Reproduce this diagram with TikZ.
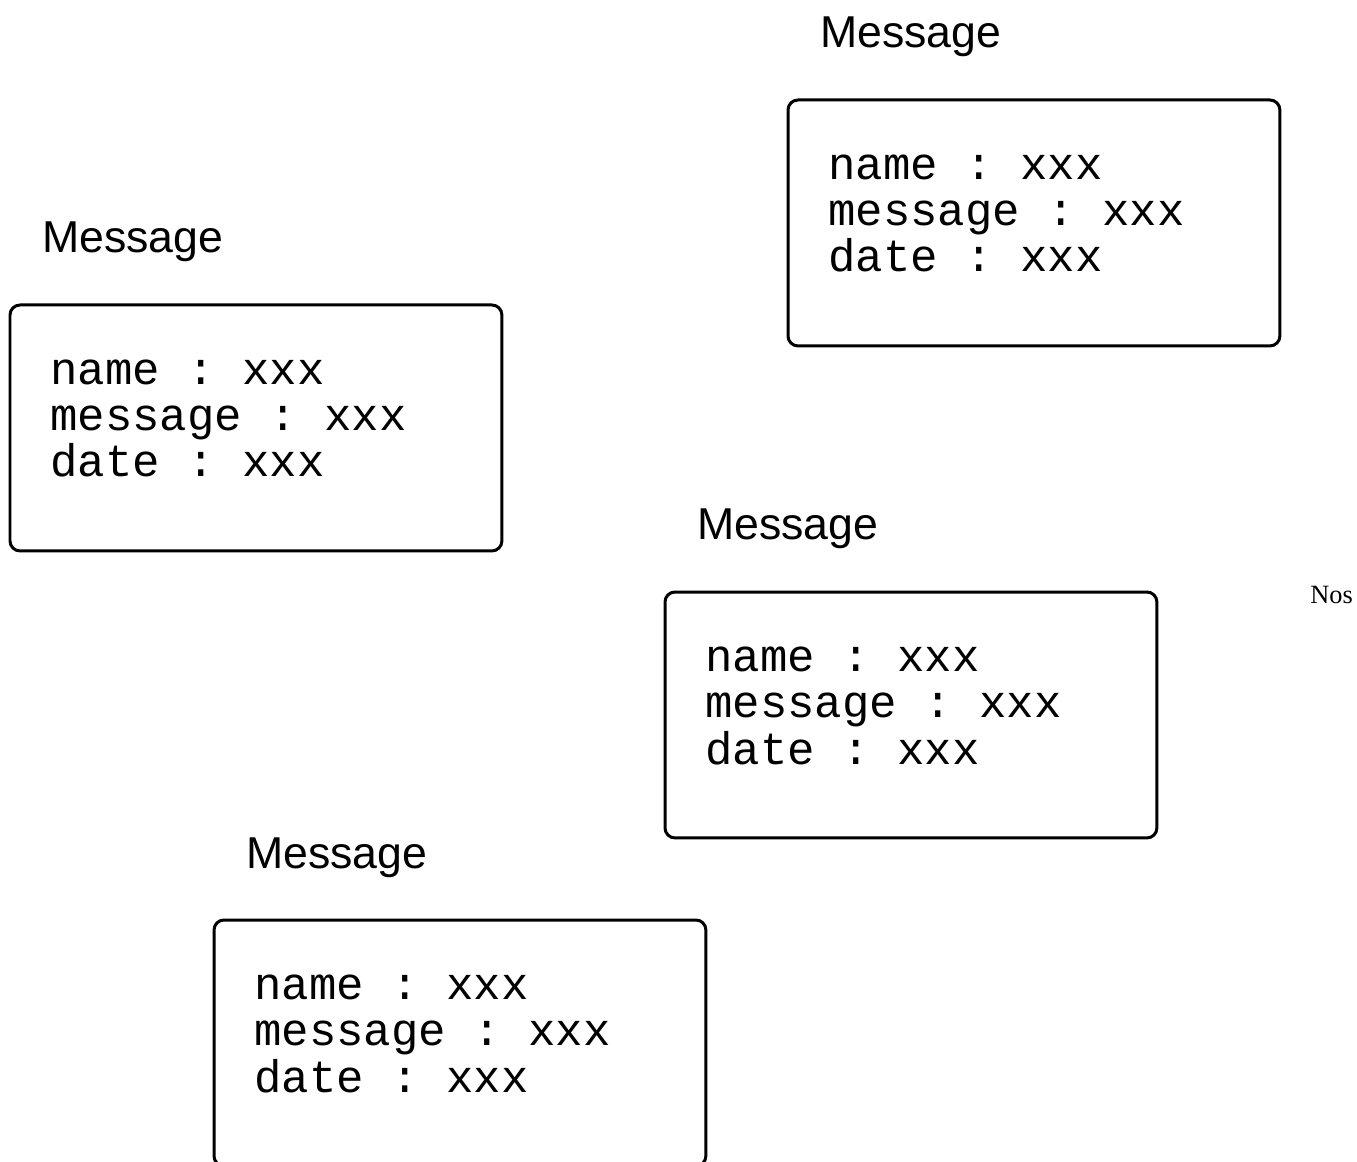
\documentclass[tikz,border=0pt]{standalone}
\usepackage{fontspec}
\setmainfont{Liberation Serif}
\setsansfont{Liberation Sans}
\setmonofont{Liberation Mono}

\begin{document}
\begin{tikzpicture}[
	x=0.02cm, y=-0.02cm,
	titre/.style={anchor=base west, inner sep=0,
		font=\sffamily\fontsize{25.4pt}{30pt}\selectfont},
	msgbox/.style={rectangle, draw=black, line width=0.06cm,
		rounded corners=0.2cm, minimum width=9.84cm, minimum height=4.92cm,
		anchor=north west, inner sep=0, outer sep=0},
	champs/.style={anchor=base west, align=left, inner sep=0,
		font=\ttfamily\fontsize{26pt}{26.2pt}\selectfont}
	]
	\useasboundingbox (0,0) rectangle (1357,1162);
	\clip (0,0) rectangle (1357,1162);

	\node[msgbox] (boxA) at (788,100) {};
	\node[msgbox] (boxB) at (10,305)  {};
	\node[msgbox] (boxC) at (665,592) {};
	\node[msgbox] (boxD) at (214,920) {};

	\node[titre] (titreA) at ([shift={(32,-52)}]boxA.north west) {Message};
	\node[titre] (titreB) at ([shift={(32,-52)}]boxB.north west) {Message};
	\node[titre] (titreC) at ([shift={(32,-52)}]boxC.north west) {Message};
	\node[titre] (titreD) at ([shift={(32,-52)}]boxD.north west) {Message};

	\node[champs] (champsA) at ([shift={(40,172)}]boxA.north west) {name : xxx\\message : xxx\\date : xxx};
	\node[champs] (champsB) at ([shift={(40,172)}]boxB.north west) {name : xxx\\message : xxx\\date : xxx};
	\node[champs] (champsC) at ([shift={(40,172)}]boxC.north west) {name : xxx\\message : xxx\\date : xxx};
	\node[champs] (champsD) at ([shift={(40,172)}]boxD.north west) {name : xxx\\message : xxx\\date : xxx};

	\node[anchor=base west, inner sep=0, font=\fontsize{15pt}{18pt}\selectfont] (nos) at (1310,603) {Nos};
\end{tikzpicture}
\end{document}
